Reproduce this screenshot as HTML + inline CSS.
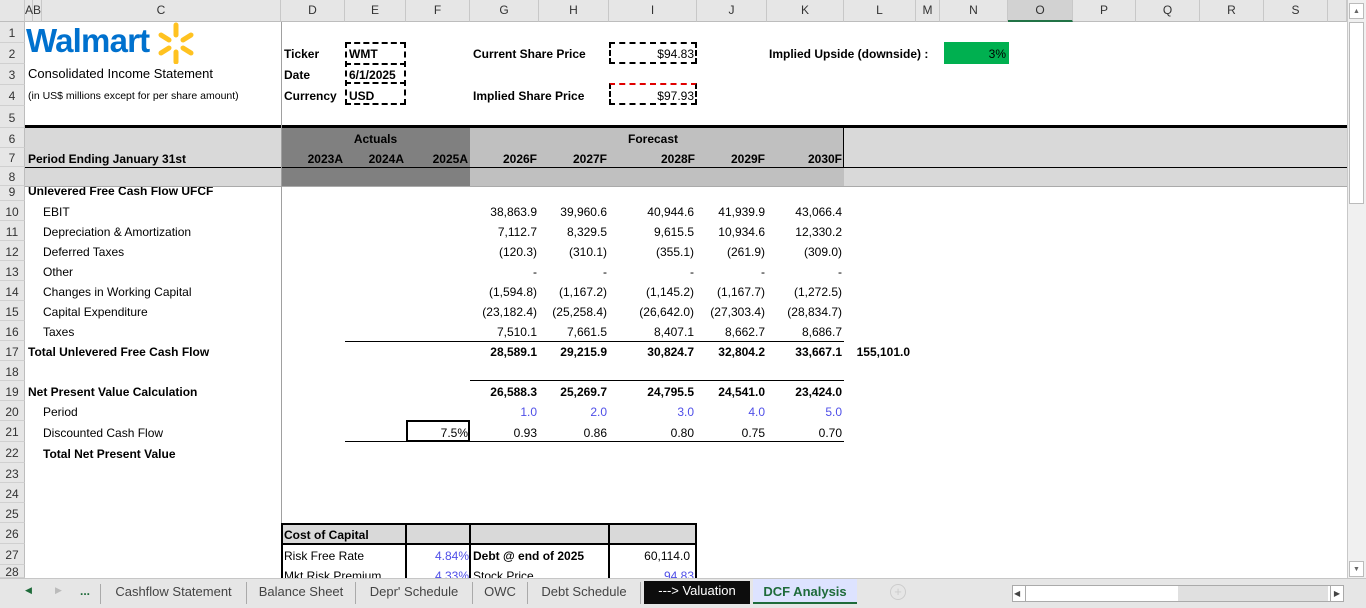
<!DOCTYPE html>
<html><head><meta charset="utf-8">
<style>
*{box-sizing:border-box;margin:0;padding:0}
body{width:1366px;height:608px;overflow:hidden;background:#fff;font-family:"Liberation Sans",Arial,sans-serif;font-size:12px;color:#000;position:relative}
.a{position:absolute;white-space:nowrap}
.hdr{background:#e6e6e6;color:#333;font-size:12px;text-align:center;line-height:21px;top:0;height:22px;border-right:1px solid #c8c8c8;border-bottom:1px solid #bdbdbd}
.rh{background:#e6e6e6;color:#333;left:0;width:25px;text-align:center;border-right:1px solid #bdbdbd;font-size:12px}
.t{font-size:12px;line-height:16px}
.r{text-align:right}
.b{font-weight:bold}
.n{font-family:"Liberation Sans Narrow","Liberation Sans",sans-serif}
.blue{color:#4f4fe8}
.tab{top:582px;height:22px;line-height:20px;font-size:13px;color:#444;text-align:center}
</style></head><body>
<div class="a" style="left:25px;top:128px;width:256px;height:58px;background:#d9d9d9"></div>
<div class="a" style="left:281px;top:128px;width:189px;height:58px;background:#808080"></div>
<div class="a" style="left:470px;top:128px;width:374px;height:58px;background:#c0c0c0"></div>
<div class="a" style="left:844px;top:128px;width:503px;height:58px;background:#d9d9d9"></div>
<div class="a" style="left:25px;top:125px;width:1322px;height:3px;background:#000"></div>
<div class="a" style="left:25px;top:167px;width:1322px;height:1px;background:#000"></div>
<div class="a" style="left:25px;top:186px;width:1322px;height:1px;background:#aaa"></div>
<div class="a" style="left:843px;top:128px;width:1px;height:39px;background:#000"></div>
<div class="a" style="left:281px;top:22px;width:1px;height:556px;background:#a0a0a0"></div>

<div class="a" style="left:26px;top:22px;font-size:33px;font-weight:bold;color:#0071ce;letter-spacing:-0.8px;line-height:38px">Walmart</div>
<svg class="a" style="left:148px;top:22px" width="56" height="42" viewBox="0 0 56 42"><g stroke="#ffc220" stroke-width="5" stroke-linecap="round"><line x1="28" y1="3" x2="28" y2="13"/><line x1="28" y1="30" x2="28" y2="40"/><line x1="13" y1="13" x2="21" y2="18"/><line x1="43" y1="13" x2="35" y2="18"/><line x1="13" y1="31" x2="21" y2="26"/><line x1="43" y1="31" x2="35" y2="26"/></g></svg>
<div class="a" style="left:28px;top:66px;font-size:13px;line-height:16px">Consolidated Income Statement</div>
<div class="a" style="left:28px;top:89px;font-size:10.5px;line-height:14px">(in US$ millions except for per share amount)</div>

<div class="a t b n" style="left:284px;top:46px">Ticker</div>
<div class="a t b n" style="left:284px;top:67px">Date</div>
<div class="a t b n" style="left:284px;top:88px">Currency</div>
<div class="a" style="left:345px;top:42px;width:61px;height:63px;border:2px dashed #000"></div>
<div class="a" style="left:345px;top:63px;width:61px;height:21px;border-top:2px dashed #000;border-bottom:2px dashed #000"></div>
<div class="a t b n" style="left:349px;top:46px">WMT</div>
<div class="a t b n" style="left:349px;top:67px">6/1/2025</div>
<div class="a t b n" style="left:349px;top:88px">USD</div>

<div class="a t b n" style="left:473px;top:46px">Current Share Price</div>
<div class="a t b n" style="left:473px;top:88px">Implied Share Price</div>
<div class="a" style="left:609px;top:42px;width:88px;height:22px;border:2px dashed #000"></div>
<div class="a" style="left:609px;top:83px;width:88px;height:22px;border:2px dashed #000;border-top-color:#e00000"></div>
<div class="a t r n" style="left:609px;width:85px;top:46px">$94.83</div>
<div class="a t r n" style="left:609px;width:85px;top:88px">$97.93</div>
<div class="a t b n" style="left:769px;top:46px">Implied Upside (downside) :</div>
<div class="a" style="left:944px;top:42px;width:65px;height:22px;background:#00b050"></div>
<div class="a t r n" style="left:944px;width:62px;top:46px">3%</div>

<div class="a t b n" style="left:28px;top:151px">Period Ending January 31st</div>
<div class="a t b n" style="left:345px;width:61px;top:131px;text-align:center">Actuals</div>
<div class="a t b n" style="left:609px;width:88px;top:131px;text-align:center">Forecast</div>
<div class="a" style="left:28px;top:187px;height:14px;width:250px;overflow:hidden"><div class="a t b n" style="left:0;top:-4px">Unlevered Free Cash Flow UFCF</div></div>

<div class="a" style="left:345px;top:341px;width:499px;height:1px;background:#000"></div>
<div class="a" style="left:470px;top:380px;width:374px;height:1px;background:#000"></div>
<div class="a" style="left:345px;top:441px;width:499px;height:1px;background:#000"></div>
<div class="a" style="left:406px;top:420px;width:64px;height:22px;border:2px solid #000"></div>
<div class="a t r n" style="left:406px;width:62px;top:425px">7.5%</div>

<div class="a" style="left:281px;top:523px;width:416px;height:22px;background:#d9d9d9;border:2px solid #000"></div>
<div class="a" style="left:281px;top:543px;width:416px;height:40px;border-left:2px solid #000;border-right:2px solid #000"></div>
<div class="a" style="left:405px;top:523px;width:2px;height:60px;background:#000"></div>
<div class="a" style="left:469px;top:523px;width:2px;height:60px;background:#000"></div>
<div class="a" style="left:608px;top:523px;width:2px;height:60px;background:#000"></div>
<div class="a t b" style="left:284px;top:527px">Cost of Capital</div>
<div class="a t" style="left:284px;top:548px">Risk Free Rate</div>
<div class="a t r blue" style="left:406px;width:63px;top:548px">4.84%</div>
<div class="a t b" style="left:473px;top:548px">Debt @ end of 2025</div>
<div class="a t r" style="left:609px;width:81px;top:548px">60,114.0</div>
<div class="a t" style="left:284px;top:568px;height:10px;overflow:hidden">Mkt Risk Premium</div>
<div class="a t r blue" style="left:406px;width:63px;top:568px;height:10px;overflow:hidden">4.33%</div>
<div class="a t" style="left:473px;top:568px;height:10px;overflow:hidden">Stock Price</div>
<div class="a t r blue" style="left:609px;width:85px;top:568px;height:10px;overflow:hidden">94.83</div>

<div class="a" style="left:1347px;top:0;width:19px;height:578px;background:#f0f0f0;border-left:1px solid #c8c8c8"></div>
<div class="a" style="left:1349px;top:22px;width:15px;height:182px;background:#fff;border:1px solid #bbb"></div>
<div class="a" style="left:1349px;top:3px;width:15px;height:16px;font-size:7px;color:#666;text-align:center;line-height:16px;border:1px solid #bbb;background:#fff">▲</div>
<div class="a" style="left:1349px;top:561px;width:15px;height:16px;font-size:7px;color:#666;text-align:center;line-height:16px;border:1px solid #bbb;background:#fff">▼</div>

<div class="a" style="left:0;top:578px;width:1366px;height:30px;background:#e6e6e6;border-top:1px solid #c6c6c6"></div>
<div class="a" style="left:25px;top:585px;color:#1e6b3a;font-size:9px">◀</div>
<div class="a" style="left:55px;top:585px;color:#bbb;font-size:9px">▶</div>
<div class="a b" style="left:80px;top:584px;color:#1e6b3a">...</div>
<div class="a" style="left:100px;top:584px;width:1px;height:20px;background:#aaa"></div>
<div class="a tab" style="left:101px;width:146px;border-right:1px solid #aaa">Cashflow Statement</div>
<div class="a tab" style="left:247px;width:109px;border-right:1px solid #aaa">Balance Sheet</div>
<div class="a tab" style="left:356px;width:117px;border-right:1px solid #aaa">Depr' Schedule</div>
<div class="a tab" style="left:473px;width:55px;border-right:1px solid #aaa">OWC</div>
<div class="a tab" style="left:528px;width:113px;border-right:1px solid #aaa">Debt Schedule</div>
<div class="a tab" style="left:644px;width:106px;top:581px;height:23px;background:#0d0d0d;color:#fff">---&gt; Valuation</div>
<div class="a tab b" style="left:753px;width:104px;top:579px;height:25px;line-height:26px;background:#dde3ff;color:#1e6b3a;border-bottom:2px solid #1e6b3a">DCF Analysis</div>
<div class="a" style="left:890px;top:584px;width:16px;height:16px;border:1px solid #ccc;border-radius:50%;color:#ccc;text-align:center;line-height:14px;font-size:13px">+</div>
<div class="a" style="left:1012px;top:585px;width:332px;height:17px;background:#fff;border:1px solid #aaa"></div>
<div class="a" style="left:1178px;top:586px;width:150px;height:15px;background:#e0e0e0"></div>
<div class="a" style="left:1014px;top:586px;width:12px;height:15px;font-size:8px;line-height:15px;color:#444;border-right:1px solid #aaa">◀</div>
<div class="a" style="left:1330px;top:586px;width:13px;height:15px;font-size:8px;line-height:15px;color:#444;border-left:1px solid #aaa;text-align:center">▶</div>

<script>
const colLetters=["A","B","C","D","E","F","G","H","I","J","K","L","M","N","O","P","Q","R","S"];
const colEdges=[25,33,42,281,345,406,470,539,609,697,767,844,916,940,1008,1073,1136,1200,1264,1328];
const rowNums=[1,2,3,4,5,6,7,8,9,10,11,12,13,14,15,16,17,18,19,20,21,22,23,24,25,26,27,28];
const rowTops=[22,43,64,85,106,128,148,167,186,201,221,241,261,281,301,321,341,361,381,401,421,442,463,483,503,523,544,565,578];
const lineLabels=["EBIT","Depreciation & Amortization","Deferred Taxes","Other","Changes in Working Capital","Capital Expenditure","Taxes"];
const ebit=["38,863.9","39,960.6","40,944.6","41,939.9","43,066.4"];
const da=["7,112.7","8,329.5","9,615.5","10,934.6","12,330.2"];
const defTax=["(120.3)","(310.1)","(355.1)","(261.9)","(309.0)"];
const other=["-","-","-","-","-"];
const wc=["(1,594.8)","(1,167.2)","(1,145.2)","(1,167.7)","(1,272.5)"];
const capex=["(23,182.4)","(25,258.4)","(26,642.0)","(27,303.4)","(28,834.7)"];
const taxes=["7,510.1","7,661.5","8,407.1","8,662.7","8,686.7"];
const ufcf=["28,589.1","29,215.9","30,824.7","32,804.2","33,667.1"];
const ufcfSum="155,101.0";
const npv=["26,588.3","25,269.7","24,795.5","24,541.0","23,424.0"];
const period=["1.0","2.0","3.0","4.0","5.0"];
const dcf=["0.93","0.86","0.80","0.75","0.70"];
const years=["2023A","2024A","2025A","2026F","2027F","2028F","2029F","2030F"];
const root=document.body;
function mk(cls,left,top,w,text){const d=document.createElement('div');d.className='a '+cls;d.style.left=left+'px';d.style.top=top+'px';if(w)d.style.width=w+'px';d.textContent=text;root.appendChild(d);return d;}
const rh0=mk('hdr',0,0,25,'');


colLetters.forEach((c,i)=>{const d=mk('hdr',colEdges[i],0,colEdges[i+1]-colEdges[i],c);
if(c==='O'){d.style.background='#d2d2d2';d.style.borderBottom='2px solid #217346';}

});
const hx=mk('hdr',1328,0,19,'');


rowNums.forEach((n,i)=>{const h=rowTops[i+1]-rowTops[i];const d=mk('rh',0,rowTops[i],25,String(n));d.style.height=h+'px';d.style.lineHeight=(i===8?12:h+2)+'px';d.style.overflow='hidden';d.style.borderBottom='1px solid #d0d0d0';

});
years.forEach((y,i)=>{const ci=i+3;const d=mk('t r b n',colEdges[ci],151,colEdges[ci+1]-colEdges[ci]-2,y);

});
const series=[ebit,da,defTax,other,wc,capex,taxes];
function rowVals(arr,top,cls,name){arr.forEach((v,i)=>{const ci=i+6;let w=colEdges[ci+1]-colEdges[ci]-2;if(ci===8)w-=1;
const d=mk('t r '+cls,colEdges[ci],top,w,v);

});}
lineLabels.forEach((l,i)=>{const top=rowTops[9+i]+3;const d=mk('t',43,top,0,l);


rowVals(series[i],top,'','value-'+i);});
const tl=mk('t b n',28,rowTops[16]+3,0,'Total Unlevered Free Cash Flow');


rowVals(ufcf,rowTops[16]+3,'b n','ufcf');
const us=mk('t r b n',844,rowTops[16]+3,66,ufcfSum);


const nl=mk('t b n',28,rowTops[18]+3,0,'Net Present Value Calculation');


rowVals(npv,rowTops[18]+3,'b n','npv');
const pl=mk('t',43,rowTops[19]+3,0,'Period');


rowVals(period,rowTops[19]+3,'blue','period');
const dl=mk('t',43,rowTops[20]+4,0,'Discounted Cash Flow');


rowVals(dcf,rowTops[20]+4,'','dcf');
const tn=mk('t b',43,rowTops[21]+4,0,'Total Net Present Value');


</script>
</body></html>
